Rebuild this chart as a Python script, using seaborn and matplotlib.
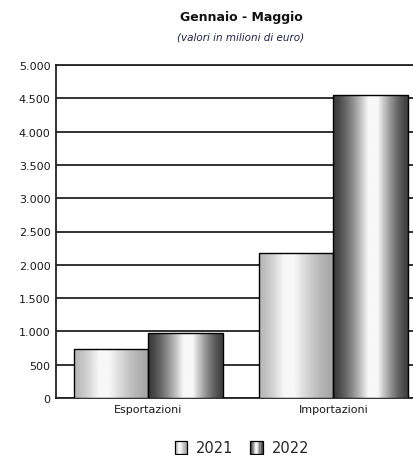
import numpy as np
import pandas as pd
import seaborn as sns
import matplotlib.pyplot as plt
from matplotlib.ticker import FuncFormatter, MultipleLocator
from matplotlib.legend_handler import HandlerBase
from matplotlib.patches import Rectangle

categorie = ['Esportazioni', 'Importazioni']
anni = ['2021', '2022']
valori_2021 = [730, 2180]
valori_2022 = [975, 4550]

df = pd.DataFrame({
    'categoria': categorie * 2,
    'anno': [anni[0]] * 2 + [anni[1]] * 2,
    'valore': valori_2021 + valori_2022,
})

sns.set_style('white')
plt.rcParams['font.family'] = ['DejaVu Sans']


# profilo di grigio orizzontale (effetto cilindro): rampa, zona chiara, rampa
def profilo(scuro_sx, scuro_dx, a, b, n=200):
    t = np.linspace(0, 1, n)
    u_sx = np.clip(t / a, 0, 1) ** 1.4
    u_dx = np.clip((1 - t) / (1 - b), 0, 1) ** 1.4
    v = np.where(t < a, scuro_sx + (0.97 - scuro_sx) * u_sx,
                 np.where(t > b, scuro_dx + (0.97 - scuro_dx) * u_dx, 0.97))
    return v


grad = {'2021': profilo(0.72, 0.65, 0.33, 0.47), '2022': profilo(0.23, 0.25, 0.47, 0.6)}

fig = plt.figure(figsize=(4.14, 4.56), dpi=100)
ax = fig.add_axes([56 / 414, 57 / 456, 370 / 414, 333 / 456])

sns.barplot(data=df, x='categoria', y='valore', hue='anno', ax=ax,
            width=0.81, gap=0, edgecolor='black', linewidth=1,
            palette=['#cccccc', '#555555'], legend=False, zorder=3)

ax.set_xlim(-0.5, 1.5)
ax.set_ylim(0, 5000)
ax.yaxis.set_major_locator(MultipleLocator(500))
ax.yaxis.set_major_formatter(FuncFormatter(lambda v, p: f'{int(v):,}'.replace(',', '.')))
ax.grid(axis='y', color='#222222', linewidth=1.3, zorder=0)
ax.set_axisbelow(True)
ax.spines['right'].set_visible(False)
for s in ['left', 'bottom', 'top']:
    ax.spines[s].set_color('#222222')
    ax.spines[s].set_linewidth(1.3)
ax.set_xlabel('')
ax.set_ylabel('')
ax.tick_params(axis='both', length=0, labelsize=8, colors='#1a1a1a')
ax.tick_params(axis='y', pad=4)
ax.tick_params(axis='x', pad=4)

# riempimento sfumato dentro le barre
for cont, anno in zip(ax.containers, anni):
    for bar in cont:
        x0, y0 = bar.get_x(), bar.get_y()
        w, h = bar.get_width(), bar.get_height()
        img = np.tile(grad[anno], (2, 1))
        im = ax.imshow(img, cmap='gray', vmin=0, vmax=1, aspect='auto',
                       extent=[x0, x0 + w, y0, y0 + h], zorder=3.5,
                       interpolation='bilinear')
        im.set_clip_path(bar)
        bar.set_facecolor('none')
        bar.set_zorder(4)
ax.set_xlim(-0.5, 1.5)
ax.set_ylim(0, 5000)

cx = (56 + 426) / 2 / 414
fig.text(cx, 1 - 18 / 456, 'Gennaio - Maggio', ha='center', va='center',
         fontsize=9, fontweight='bold', color='#111111')
fig.text(cx, 1 - 38 / 456, '(valori in milioni di euro)', ha='center', va='center',
         fontsize=7.5, style='italic', color='#222244')


class HandlerGrad(HandlerBase):
    def __init__(self, anno):
        super().__init__()
        self.anno = anno

    def create_artists(self, legend, orig, xd, yd, w, h, fontsize, trans):
        lato = h * 1.25
        x0 = xd + (w - lato) / 2
        y0 = yd + (h - lato) / 2
        prof = grad[self.anno]
        n = 12
        arts = []
        for i in range(n):
            v = prof[int((i + 0.5) / n * len(prof))]
            arts.append(Rectangle((x0 + i * lato / n, y0), lato / n, lato,
                                  facecolor=(v, v, v), edgecolor='none', transform=trans))
        arts.append(Rectangle((x0, y0), lato, lato, facecolor='none',
                              edgecolor='black', linewidth=0.9, transform=trans))
        return arts


h1 = Rectangle((0, 0), 1, 1)
h2 = Rectangle((0, 0), 1, 1)
fig.legend([h1, h2], anni, loc='center', bbox_to_anchor=(cx, 1 - 449 / 456),
           ncol=2, frameon=False, fontsize=10.5, handlelength=1.1, handletextpad=0.5,
           columnspacing=1.0, handler_map={h1: HandlerGrad('2021'), h2: HandlerGrad('2022')})

fig.savefig('out.png', dpi=100)
